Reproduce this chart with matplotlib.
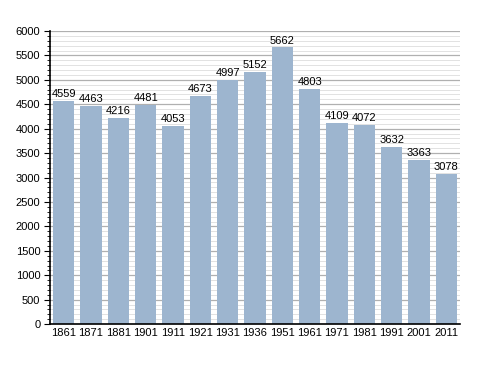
import matplotlib
matplotlib.use("Agg")
import matplotlib.pyplot as plt
from matplotlib.ticker import MultipleLocator

plt.rcParams['font.family'] = ['Liberation Sans', 'DejaVu Sans']

years = ["1861", "1871", "1881", "1901", "1911", "1921", "1931", "1936",
         "1951", "1961", "1971", "1981", "1991", "2001", "2011"]
population = [4559, 4463, 4216, 4481, 4053, 4673, 4997, 5152,
              5662, 4803, 4109, 4072, 3632, 3363, 3078]

fig = plt.figure(figsize=(4.88, 3.73), dpi=100)
ax = fig.add_axes([0.1025, 0.131, 0.84, 0.786])

x = list(range(len(years)))
ax.bar(x, population, width=0.78, color="#9db5cf", zorder=2)
for xi, v in zip(x, population):
    ax.text(xi, v + 40, str(v), ha="center", va="bottom", fontsize=8, color="black", zorder=3)

ax.set_ylim(0, 6000)
ax.set_xlim(-0.5, len(years) - 0.5)
ax.yaxis.set_major_locator(MultipleLocator(500))
ax.yaxis.set_minor_locator(MultipleLocator(100))
ax.grid(axis="y", which="major", color="#b0b0b0", linewidth=0.9, zorder=0)
ax.grid(axis="y", which="minor", color="#dddddd", linewidth=0.6, zorder=0)
ax.set_xticks(x)
ax.set_xticklabels(years)
ax.tick_params(axis="x", length=0, labelsize=8, pad=3)
ax.tick_params(axis="y", which="major", length=4, labelsize=8, direction="out", pad=3)
ax.tick_params(axis="y", which="minor", length=2.5, direction="out")
for s in ["top", "right"]:
    ax.spines[s].set_visible(False)
ax.spines["left"].set_linewidth(1.2)
ax.spines["bottom"].set_linewidth(1.2)

fig.savefig("out.png", dpi=100)
